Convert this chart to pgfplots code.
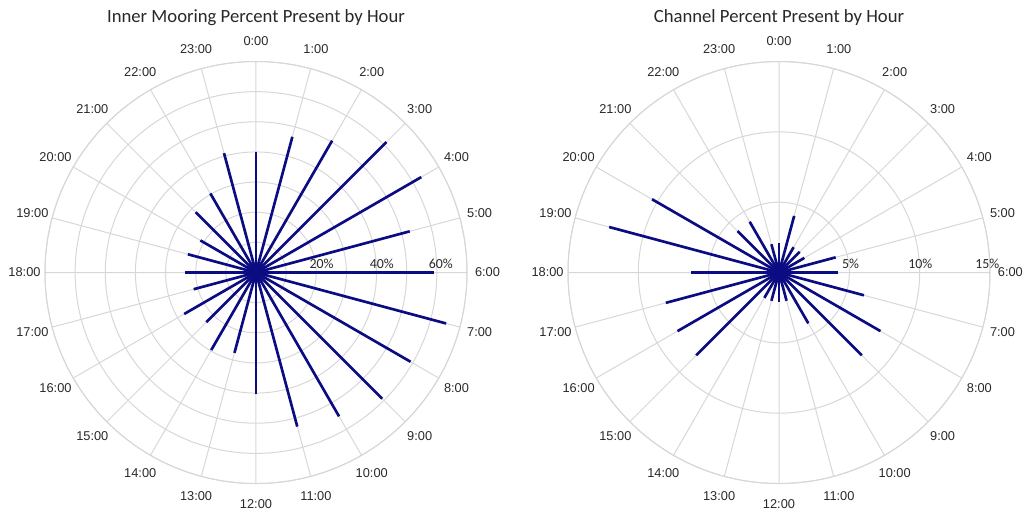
\documentclass[border=0pt]{standalone}
\usepackage{pgfplots}
\pgfplotsset{compat=1.18}
\usepackage{pgfplotstable}
\usepgfplotslibrary{polar}
\usepackage{fontspec}
\setmainfont{Liberation Sans}
\newfontfamily\calibri{Carlito}
\definecolor{spokec}{RGB}{12,12,130}
\definecolor{gridc}{RGB}{215,215,215}
\definecolor{txt}{RGB}{40,40,40}

% hour (0-23), percent present
\pgfplotstableread{
hour pct
0 40.1
1 46.6
2 50.5
3 61.2
4 63.3
5 52.8
6 59.0
7 65.3
8 59.2
9 59.2
10 55.1
11 52.9
12 40.4
13 27.6
14 29.7
15 23.3
16 27.5
17 21.4
18 23.4
19 23.4
20 21.3
21 28.3
22 30.3
23 41.0
}\innerdata

\pgfplotstableread{
hour pct
0 2.08
1 4.17
2 2.08
3 2.08
4 2.08
5 4.17
6 4.17
7 6.25
8 8.33
9 8.33
10 4.17
11 2.08
12 2.08
13 2.08
14 2.08
15 8.33
16 8.33
17 8.33
18 6.25
19 12.50
20 10.42
21 4.17
22 4.17
23 2.08
}\channeldata

\pgfplotsset{
  hourpolar/.style={
    scale only axis, width=316.5pt, height=316.5pt,
    clip=false, anchor=center,
    ymin=0,
    xtick={0,15,...,345},
    xticklabel=\empty, yticklabel=\empty,
    xmajorgrids, ymajorgrids,
    major grid style={draw=gridc, line width=0.75pt},
    axis line style={draw=gridc, line width=0.75pt},
    major tick length=0pt,
  },
  spoke/.style={draw=spokec, line width=2pt, no marks},
}
\tikzset{
  hourlbl/.style={font=\fontsize{9.6}{11}\selectfont, text=txt, inner sep=0pt, anchor=center},
  pctlbl/.style={font=\calibri\fontsize{10.4}{12}\selectfont, text=txt, inner sep=0pt, anchor=south},
}

\newcommand\drawspokes[1]{%
  \pgfplotsinvokeforeach{0,...,23}{%
    \pgfplotstablegetelem{##1}{pct}\of#1%
    \edef\tmp{\noexpand\addplot[spoke] coordinates {(\the\numexpr 90-15*##1\relax,0) (\the\numexpr 90-15*##1\relax,\pgfplotsretval)};}%
    \tmp
  }%
}
\newcommand\hourlabels[1]{%
  \pgfplotsinvokeforeach{0,...,23}{%
    \node[hourlbl] at (axis cs:{90-15*##1},#1) {##1:00};
  }%
}

\begin{document}
\begin{tikzpicture}
\path[use as bounding box] (0,0) rectangle (769.5pt,387pt);

\node[text=txt, font=\calibri\fontsize{14}{16}\selectfont] at (192pt,374pt) {Inner Mooring Percent Present by Hour};
\node[text=txt, font=\calibri\fontsize{14}{16}\selectfont] at (584.25pt,374pt) {Channel Percent Present by Hour};

\begin{polaraxis}[hourpolar, at={(192pt,182.6pt)}, ymax=70, ytick={10,20,...,70}]
  \drawspokes{\innerdata}
  \hourlabels{76.8}
  \node[pctlbl, xshift=4pt, yshift=2.5pt] at (axis cs:0,20) {20\%};
  \node[pctlbl, xshift=4pt, yshift=2.5pt] at (axis cs:0,40) {40\%};
  \node[pctlbl, xshift=3pt, yshift=2.5pt] at (axis cs:0,60) {60\%};
\end{polaraxis}

\begin{polaraxis}[hourpolar, at={(584.25pt,182.6pt)}, ymax=15, ytick={5,10,15}]
  \drawspokes{\channeldata}
  \hourlabels{16.45}
  \node[pctlbl, xshift=1pt, yshift=2.5pt] at (axis cs:0,5) {5\%};
  \node[pctlbl, xshift=0.5pt, yshift=2.5pt] at (axis cs:0,10) {10\%};
  \node[pctlbl, xshift=-2pt, yshift=2.5pt] at (axis cs:0,15) {15\%};
\end{polaraxis}
\end{tikzpicture}
\end{document}
